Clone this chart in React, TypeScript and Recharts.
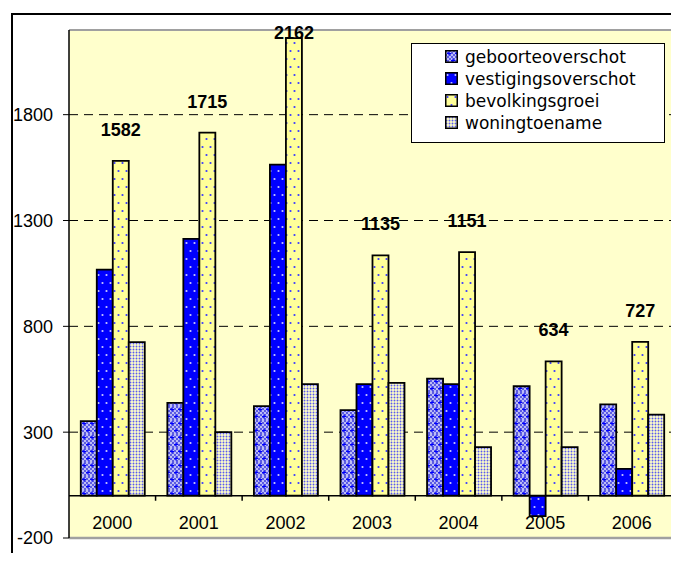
import { BarChart, Bar, XAxis, YAxis, CartesianGrid, ReferenceLine, LabelList, Legend } from "recharts";

const years = ["2000", "2001", "2002", "2003", "2004", "2005", "2006"];
const geboorteoverschot = [352, 438, 423, 404, 553, 517, 431];
const vestigingsoverschot = [1068, 1213, 1564, 527, 527, -97, 127];
const bevolkingsgroei = [1582, 1715, 2162, 1135, 1151, 634, 727];
const woningtoename = [725, 300, 527, 533, 229, 229, 383];
const yTicks = [-200, 300, 800, 1300, 1800];

const series = [
  { key: "geboorteoverschot", pat: "pGeb" },
  { key: "vestigingsoverschot", pat: "pVes" },
  { key: "bevolkingsgroei", pat: "pBev" },
  { key: "woningtoename", pat: "pWon" },
];

const data = years.map((y, i) => ({
  year: y,
  geboorteoverschot: geboorteoverschot[i],
  vestigingsoverschot: vestigingsoverschot[i],
  bevolkingsgroei: bevolkingsgroei[i],
  woningtoename: woningtoename[i],
}));

const axisFont = "'Liberation Sans', Arial, sans-serif";

const YearTick = ({ x, y, payload }: any) => (
  <text x={x} y={y - 15} textAnchor="middle" dominantBaseline="central" fontFamily={axisFont} fontSize={18} fill="#000">
    {payload.value}
  </text>
);

const TopLabel = (p: any) => {
  const cy = Math.max(Number(p.y) - 31, 33);
  return (
    <text x={Number(p.x) + Number(p.width) / 2} y={cy} textAnchor="middle" dominantBaseline="central"
      fontFamily={axisFont} fontWeight="bold" fontSize={18} fill="#000">
      {p.value}
    </text>
  );
};

const LegendBox = () => (
  <div style={{ width: 254, height: 100, boxSizing: "border-box", background: "#fff", border: "1.5px solid #000", paddingTop: 1.5 }}>
    {series.map(s => (
      <div key={s.key} style={{ display: "flex", alignItems: "center", height: 22, paddingLeft: 33 }}>
        <svg width={13} height={13} style={{ display: "block" }}>
          <rect x={0.75} y={0.75} width={11.5} height={11.5} fill={`url(#${s.pat})`} stroke="#000" strokeWidth={1.5} />
        </svg>
        <span style={{ marginLeft: 7, fontFamily: "'DejaVu Sans', sans-serif", fontSize: 17, color: "#000", lineHeight: "22px" }}>{s.key}</span>
      </div>
    ))}
  </div>
);

export default function App() {
  return (
    <div style={{ position: "relative", margin: -8, width: 679, height: 561, overflow: "hidden", background: "#fff" }}>
      <div style={{ position: "absolute", left: 11, top: 13, width: 700, height: 600, borderTop: "2px solid #000", borderLeft: "2px solid #000" }} />
      <div style={{ position: "absolute", left: 0, top: 0 }}>
        <BarChart width={679} height={561} data={data} margin={{ top: 30, right: 4, bottom: 0, left: 11 }}
          barCategoryGap="13.6%" barGap={0}>
          <defs>
            <pattern id="chk" width={4} height={4} patternUnits="userSpaceOnUse">
              <rect width={4} height={4} fill="#bcbcf6" />
              <rect width={2} height={2} fill="#5c5ce2" />
              <rect x={2} y={2} width={2} height={2} fill="#5c5ce2" />
            </pattern>
            <pattern id="pGeb" width={8} height={14} patternUnits="userSpaceOnUse">
              <rect width={8} height={14} fill="url(#chk)" />
              <path d="M4 1.5v4M2 3.5h4" stroke="#0000ff" strokeWidth={1.2} />
              <path d="M0 8.5v4M-2 10.5h4M8 8.5v4M6 10.5h4" stroke="#0000ff" strokeWidth={1.2} />
            </pattern>
            <pattern id="pVes" width={8} height={16} patternUnits="userSpaceOnUse">
              <rect width={8} height={16} fill="#0000ff" />
              <circle cx={2.5} cy={3} r={1.1} fill="#c8c8ff" />
              <circle cx={6.5} cy={11} r={1.1} fill="#c8c8ff" />
            </pattern>
            <pattern id="pBev" width={8} height={16} patternUnits="userSpaceOnUse">
              <rect width={8} height={16} fill="#ffff99" />
              <circle cx={2.5} cy={3} r={1.1} fill="#3a3aff" />
              <circle cx={6.5} cy={11} r={1.1} fill="#3a3aff" />
            </pattern>
            <pattern id="pWon" width={3} height={3} patternUnits="userSpaceOnUse">
              <rect width={3} height={3} fill="#ffffc8" />
              <circle cx={1.5} cy={1.5} r={0.95} fill="#5a5af0" />
            </pattern>
          </defs>
          <CartesianGrid vertical={false} fill="#ffffcc" stroke="#000" strokeDasharray="9 6" horizontalValues={[300, 800, 1300, 1800]} />
          <XAxis dataKey="year" axisLine={false} tickLine={false} tickSize={0} tickMargin={0} height={23} tick={<YearTick />} interval={0} />
          <YAxis domain={[-200, 2200]} ticks={yTicks} allowDataOverflow width={58} tickSize={6} tickMargin={10}
            axisLine={{ stroke: "#000", strokeWidth: 1.5 }} tickLine={{ stroke: "#000" }}
            tick={{ fill: "#000", fontSize: 18, fontFamily: axisFont }} />
          <ReferenceLine y={2200} stroke="#a0a0a0" strokeWidth={2} />
          <ReferenceLine y={-200} stroke="#a0a0a0" strokeWidth={2.5} />
          <ReferenceLine x="2006" position="end" stroke="#a0a0a0" strokeWidth={2} />
          <Legend content={<LegendBox />} layout="vertical" align="center" verticalAlign="middle"
            wrapperStyle={{ left: 411, top: 43, width: 254, height: 100 }} />
          {series.map(s => (
            <Bar key={s.key} dataKey={s.key} fill={`url(#${s.pat})`} stroke="#000" strokeWidth={1.8} isAnimationActive={false}>
              {s.key === "bevolkingsgroei" && <LabelList dataKey="bevolkingsgroei" content={TopLabel} />}
            </Bar>
          ))}
          <ReferenceLine y={0} stroke="#000" strokeWidth={1.5} />
          {years.slice(1).map(y => (
            <ReferenceLine key={y} segment={[{ x: y, y: 0 }, { x: y, y: -24 }]} position="start" stroke="#000" strokeWidth={1.5} />
          ))}
        </BarChart>
      </div>
    </div>
  );
}
